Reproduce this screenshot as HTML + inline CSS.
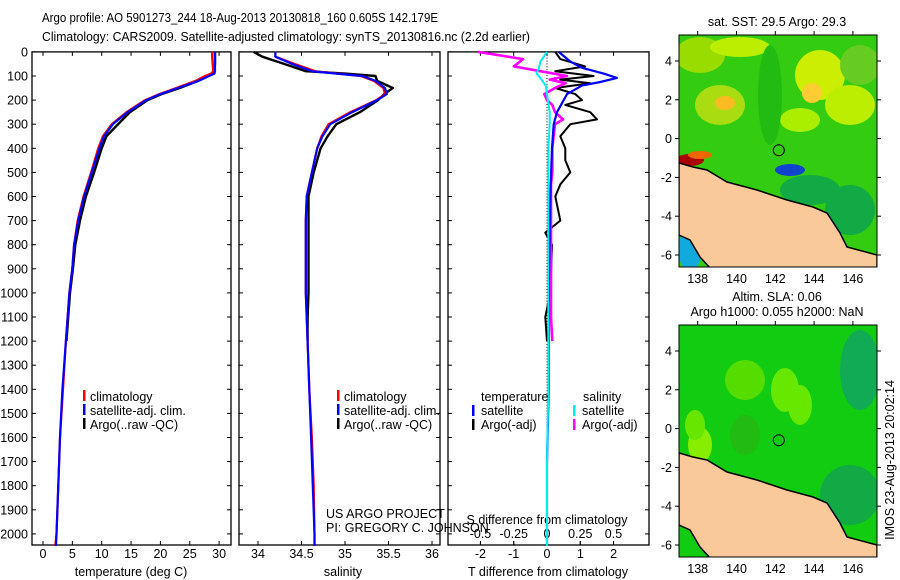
<!DOCTYPE html>
<html><head><meta charset="utf-8"><style>
html,body{margin:0;padding:0;background:#fff}
svg{display:block;font-family:"Liberation Sans",sans-serif}
text{font-size:12.5px;fill:#000}
</style></head><body>
<svg id="fig" width="900" height="580" viewBox="0 0 900 580" xmlns="http://www.w3.org/2000/svg">
<text x="42" y="22" textLength="396" lengthAdjust="spacingAndGlyphs">Argo profile: AO 5901273_244 18-Aug-2013 20130818_160 0.605S 142.179E</text>
<text x="42" y="41" textLength="488" lengthAdjust="spacingAndGlyphs">Climatology: CARS2009. Satellite-adjusted climatology: synTS_20130816.nc (2.2d earlier)</text>
<g id="panels"></g>
<g id="maps"></g>
<text transform="translate(894,460) rotate(-90)" text-anchor="middle">IMOS 23-Aug-2013 20:02:14</text>
</svg>
<script>
// ---- data ----
const depthClimT = [0,20,50,80,90,100,120,150,175,200,250,300,350,400,500,600,700,800,900,1000,1200,1400,1600,1800,2000,2050];
const tempSat   = [29.3,29.3,29.3,29.3,29.2,28.3,26.5,23.0,20.0,17.6,14.4,11.9,10.4,9.6,8.3,7.0,6.0,5.3,5.0,4.5,3.9,3.3,2.9,2.6,2.3,2.2];
const tempClim  = [28.8,28.8,28.9,29.0,28.6,27.6,26.0,22.7,19.8,17.4,14.2,11.7,10.2,9.4,8.2,6.9,5.9,5.3,5.0,4.5,3.9,3.4,2.9,2.6,2.3,2.1];
const depthArgo = [0,20,50,80,90,100,120,150,175,200,250,300,350,400,500,600,700,800,900,1000,1100,1200];
const tempArgo  = [29.3,29.3,29.3,29.1,29.0,28.2,26.5,23.3,20.2,17.8,14.8,12.8,10.8,10.0,8.7,7.3,6.3,5.5,5.1,4.6,4.3,4.0];
const salSat    = [34.2,34.2,34.39,34.62,34.9,35.2,35.35,35.46,35.48,35.37,35.08,34.83,34.74,34.68,34.62,34.56,34.55,34.55,34.55,34.55,34.57,34.59,34.61,34.63,34.65,34.65];
const salClim   = [34.2,34.2,34.42,34.66,34.92,35.18,35.33,35.44,35.46,35.36,35.06,34.81,34.73,34.68,34.62,34.56,34.55,34.55,34.55,34.55,34.57,34.59,34.62,34.64,34.65,34.65];
const salArgo   = [33.95,34.05,34.3,34.55,35.0,35.35,35.37,35.55,35.45,35.38,35.17,34.9,34.8,34.72,34.64,34.58,34.58,34.58,34.58,34.58,34.57,34.57];
const depthDiff = [0,30,60,80,100,115,130,150,175,200,220,250,280,300,350,400,450,500,550,600,700,750,800,1000,1100,1200];
const dTArgo    = [0.25,0.4,1.15,0.25,1.4,0.4,1.3,0.25,0.85,1.05,0.55,1.3,1.5,0.7,0.4,0.55,0.55,0.7,0.4,0.25,0.4,-0.05,0.15,0.1,-0.05,0.0];
const dSArgo    = [-0.52,-0.18,-0.25,-0.05,0.15,0.02,0.14,0.06,-0.02,0.0,0.04,0.06,0.12,0.06,0.05,0.04,0.04,0.04,0.03,0.03,0.03,0.03,0.03,0.03,0.03,0.04];
const depthSatDiff = [0,40,66,90,108,125,140,175,250,300,400,600,1000,1400,1700,2050];
const dTSat     = [0.35,0.7,1.05,1.7,2.1,1.6,1.05,0.6,0.3,0.2,0.15,0.1,0.05,0.05,0.0,0.0];
const dSSat     = [0.0,-0.05,-0.06,-0.08,-0.05,-0.03,-0.01,0.0,0.02,0.02,0.01,0.01,0.01,0.01,0.0,0.0];
const depthTicks = [0,100,200,300,400,500,600,700,800,900,1000,1100,1200,1300,1400,1500,1600,1700,1800,1900,2000];
const tempTicks = [0,5,10,15,20,25,30];
const salTicks = [34,34.5,35,35.5,36];
const dTTicks = [-2,-1,0,1,2];
const dSTicks = [-0.5,-0.25,0,0.25,0.5];

const NS='http://www.w3.org/2000/svg';
const pg=document.getElementById('panels');
function mk(tag,attrs,parent){const e=document.createElementNS(NS,tag);for(const k in attrs)e.setAttribute(k,attrs[k]);(parent||pg).appendChild(e);return e;}
const Y0=51.9, YS=0.241, PB=545;
const yD=d=>Y0+d*YS;
const xT=v=>43+5.87*v;
const xS=v=>258+87*(v-34);
const xDT=v=>547+33.3*v;
const xDS=v=>547+133*v;

function panel(name,x0,x1){
  const r=mk('rect',{x:x0,y:Y0,width:x1-x0,height:PB-Y0,fill:'none',stroke:'#000','stroke-width':1.3});
  
  
}
function xticks(name,ticks,fx,ylab,bothSides){
  ticks.forEach(t=>{
    const x=fx(t);
    mk('line',{x1:x,x2:x,y1:PB,y2:PB-4,stroke:'#000'});
    if(bothSides) mk('line',{x1:x,x2:x,y1:Y0,y2:Y0+4,stroke:'#000'});
    const tx=mk('text',{x:x,y:ylab,'text-anchor':'middle'});
    tx.textContent=String(t);
    
    
  });
}
function line(name,xs,ds,fx,color,w){
  const p=xs.map((v,i)=>fx(v).toFixed(1)+','+yD(ds[i]).toFixed(1)).join(' ');
  const pl=mk('polyline',{points:p,fill:'none',stroke:color,'stroke-width':w||2.2,'stroke-linejoin':'round'});
  
  
}
function txt(name,x,y,s,anchor){
  const t=mk('text',{x:x,y:y,'text-anchor':anchor||'start'});t.textContent=s;
  
  
  return t;
}
function legBar(name,x,y,color){
  const r=mk('rect',{x:x,y:y-10,width:2.5,height:11,fill:color});
  
  
}

// panel 1 temperature
panel('temperature-panel',32,231);
depthTicks.forEach(d=>{
  const y=yD(d);
  mk('line',{x1:32,x2:36,y1:y,y2:y,stroke:'#000'});
  mk('line',{x1:231,x2:227,y1:y,y2:y,stroke:'#000'});
  mk('line',{x1:239,x2:243,y1:y,y2:y,stroke:'#000'});
  mk('line',{x1:440,x2:436,y1:y,y2:y,stroke:'#000'});
  mk('line',{x1:448,x2:452,y1:y,y2:y,stroke:'#000'});
  mk('line',{x1:649,x2:645,y1:y,y2:y,stroke:'#000'});
  txt('depth-tick-label',28,y+4.5,String(d),'end');
});
xticks('temperature-axis',tempTicks,xT,558,true);
txt('temperature-axis-title',131,576,'temperature (deg C)','middle');
line('temp-argo-line',tempArgo,depthArgo,xT,'#000',2.4);
line('temp-climatology-line',tempClim,depthClimT,xT,'#f00');
line('temp-satellite-line',tempSat,depthClimT,xT,'#00f');
legBar('legend-climatology-swatch',83,400,'#f00');txt('legend-climatology',90,401,'climatology');
legBar('legend-satellite-swatch',83,414,'#00f');txt('legend-satellite',90,415,'satellite-adj. clim.');
legBar('legend-argo-swatch',83,428,'#000');txt('legend-argo',90,429,'Argo(..raw -QC)');

// panel 2 salinity
panel('salinity-panel',239,440);
xticks('salinity-axis',salTicks,xS,558,true);
txt('salinity-axis-title',343,576,'salinity','middle');
line('sal-argo-line',salArgo,depthArgo,xS,'#000',2.4);
line('sal-climatology-line',salClim,depthClimT,xS,'#f00');
line('sal-satellite-line',salSat,depthClimT,xS,'#00f');
legBar('legend2-climatology-swatch',337,400,'#f00');txt('legend2-climatology',344,401,'climatology');
legBar('legend2-satellite-swatch',337,414,'#00f');txt('legend2-satellite',344,415,'satellite-adj. clim.');
legBar('legend2-argo-swatch',337,428,'#000');txt('legend2-argo',344,429,'Argo(..raw -QC)');
txt('project-label',326,518,'US ARGO PROJECT');
txt('pi-label',326,532,'PI: GREGORY C. JOHNSON');

// panel 3 differences
panel('difference-panel',448,649);
xticks('t-diff-axis',dTTicks,xDT,558,false);
xticks('s-diff-axis',dSTicks,xDS,538,false);
dTTicks.forEach(t=>mk('line',{x1:xDT(t),x2:xDT(t),y1:Y0,y2:Y0+4,stroke:'#000'}));
for(let d=0;d<2050;d+=12){mk('rect',{x:546.5,y:yD(d),width:1,height:1,fill:'#000'});}
txt('s-diff-axis-title',547,524,'S difference from climatology','middle');
txt('t-diff-axis-title',548,576,'T difference from climatology','middle');
line('dT-argo-line',dTArgo,depthDiff,xDT,'#000',2);
line('dS-argo-line',dSArgo,depthDiff,xDS,'#f0f',2.6);
line('dT-satellite-line',dTSat,depthSatDiff,xDT,'#00f',2.2);
line('dS-satellite-line',dSSat,depthSatDiff,xDS,'#0ee',2);
txt('legend3-temperature-heading',481,401,'temperature');
txt('legend3-salinity-heading',583,401,'salinity');
legBar('legend3-t-sat-swatch',472,415,'#00f');txt('legend3-t-sat',481,415,'satellite');
legBar('legend3-t-argo-swatch',472,429,'#000');txt('legend3-t-argo',481,429,'Argo(-adj)');
legBar('legend3-s-sat-swatch',573,415,'#0ee');txt('legend3-s-sat',582,415,'satellite');
legBar('legend3-s-argo-swatch',573,429,'#f0f');txt('legend3-s-argo',582,429,'Argo(-adj)');

// ---- maps ----
const mg=document.getElementById('maps');
const lonTicks=[138,140,142,144,146];
const latTicks=[4,2,0,-2,-4,-6];
const argoLon=142.18, argoLat=-0.6;
function map(name,top,base,patches,title1,title2){
  const g=mk('g',{},mg);
  
  
  const lx=v=>697.7+19.4*(v-138);
  const ly=v=>top+103.6-19.4*v;
  const cid='clip-'+name;
  const cp=mk('clipPath',{id:cid},g);mk('rect',{x:679,y:top,width:198,height:232},cp);
  const inner=mk('g',{'clip-path':'url(#'+cid+')'},g);
  mk('rect',{x:679,y:top,width:198,height:232,fill:base},inner);
  patches.forEach(p=>mk('ellipse',{cx:p[0],cy:top+p[1],rx:p[2],ry:p[3],fill:p[4]},inner));
  const coast=[[679,128],[693,132],[707,135],[727,147],[757,155],[787,165],[813,172],[827,178],[840,198],[847,212],[877,220],[877,234],[711,234],[700,222],[690,205],[679,200]];
  const land=mk('polygon',{points:coast.map(p=>p[0]+','+(p[1]+top)).join(' '),fill:'#f9c99a',stroke:'#000','stroke-width':1.5},inner);
  
  
  mk('rect',{x:679,y:top,width:198,height:232,fill:'none',stroke:'#000','stroke-width':1},g);
  lonTicks.forEach(v=>{const x=lx(v);mk('line',{x1:x,x2:x,y1:top,y2:top-4,stroke:'#000'},g);
    const t=mk('text',{x:x,y:top+248,'text-anchor':'middle'},g);t.textContent=v;
    });
  latTicks.forEach(v=>{const y=ly(v);mk('line',{x1:679,x2:675,y1:y,y2:y,stroke:'#000'},g);mk('line',{x1:877,x2:881,y1:y,y2:y,stroke:'#000'},g);
    const t=mk('text',{x:672,y:y+4.5,'text-anchor':'end'},g);t.textContent=v;
    });
  const c=mk('circle',{cx:lx(argoLon),cy:ly(argoLat),r:5.5,fill:'none',stroke:'#000','stroke-width':1},g);
  
  
  const t1=mk('text',{x:777,y:title2?top-24:top-9,'text-anchor':'middle'},g);t1.textContent=title1;
  
  if(title2){const t2=mk('text',{x:777,y:top-9,'text-anchor':'middle'},g);t2.textContent=title2;
    }
}
map('sst-map',35,'#33cc11',[
 [700,20,25,18,'#99dd00'],[740,12,30,10,'#bbee00'],[720,70,25,20,'#aadd11'],[725,68,10,7,'#ffbb22'],
 [820,40,25,25,'#ccee00'],[812,58,10,10,'#ffcc33'],[850,70,25,20,'#bbee00'],[800,85,20,12,'#aaee00'],
 [860,30,20,20,'#66cc22'],[770,60,12,50,'#22bb11'],[690,125,14,6,'#aa0000'],[700,120,12,4,'#ee6600'],
 [790,135,15,6,'#1144cc'],[810,155,30,15,'#11aa44'],[850,175,25,25,'#11aa44'],[690,215,12,20,'#11aadd']
],'sat. SST: 29.5 Argo: 29.3',null);
map('sla-map',325,'#11cc11',[
 [745,55,20,20,'#55dd00'],[785,65,14,22,'#66e800'],[800,80,12,20,'#66e800'],[700,120,12,18,'#88ee00'],
 [695,100,10,15,'#66e600'],[860,45,20,40,'#11aa55'],[850,170,30,30,'#11aa44'],[745,110,15,20,'#22bb11']
],'Altim. SLA: 0.06','Argo h1000: 0.055 h2000: NaN');
</script>
</body></html>
